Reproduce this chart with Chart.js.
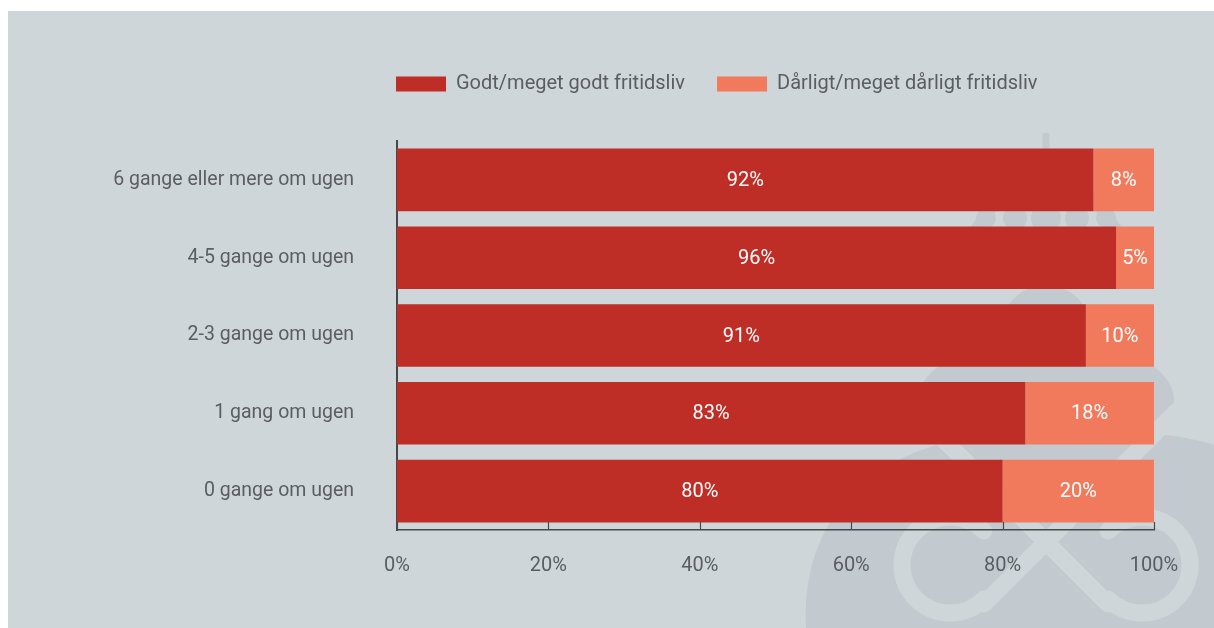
<!DOCTYPE html>
<html><head><meta charset="utf-8">
<script src="https://cdn.jsdelivr.net/npm/chart.js@4"></script>
<style>html,body{margin:0;padding:0;background:#fff;overflow:hidden} #wrap{width:1214px;height:628px;position:relative}</style>
</head><body><div id="wrap"><canvas id="c" width="1214" height="628"></canvas></div>
<script>
const categories = ['6 gange eller mere om ugen', '4-5 gange om ugen', '2-3 gange om ugen', '1 gang om ugen', '0 gange om ugen'];
const seriesNames = ['Godt/meget godt fritidsliv', 'Dårligt/meget dårligt fritidsliv'];
const goodValues = [92, 95, 91, 83, 80];
const badValues = [8, 5, 9, 17, 20];
const goodLabels = ['92%', '96%', '91%', '83%', '80%'];
const badLabels = ['8%', '5%', '10%', '18%', '20%'];
const xTicks = [0, 20, 40, 60, 80, 100];

const FONT = 'Roboto, "Open Sans", sans-serif';
const TEXT = '#5a5d61';
const AXIS = '#46494c';
const RED = '#bf2e26';
const SALMON = '#f27a5c';
const PANEL = '#cfd6d9';
const WM = '#c3cacf';

const backgroundPlugin = {
  id: 'bg',
  beforeDraw(chart) {
    const ctx = chart.ctx;
    ctx.save();
    ctx.fillStyle = '#ffffff';
    ctx.fillRect(0, 0, chart.width, chart.height);
    ctx.fillStyle = PANEL;
    ctx.fillRect(8, 11, chart.width - 8, chart.height - 11);
    // faint watermark (decoration)
    ctx.fillStyle = WM;
    ctx.strokeStyle = WM;
    ctx.lineCap = 'round';
    ctx.lineWidth = 7;
    ctx.beginPath(); ctx.moveTo(1046, 136); ctx.lineTo(1046, 165); ctx.stroke();
    ctx.lineWidth = 9;
    ctx.beginPath(); ctx.arc(1046, 275, 85, Math.PI * 1.12, Math.PI * 1.88); ctx.stroke();
    [[986, 218, 10], [1015, 218, 12], [1046, 218, 15], [1077, 218, 12], [1106, 218, 10]].forEach(([x, y, r]) => {
      ctx.beginPath(); ctx.arc(x, y, r, 0, Math.PI * 2); ctx.fill();
    });
    ctx.beginPath(); ctx.arc(1046, 330, 45, 0, Math.PI * 2); ctx.fill();
    ctx.beginPath(); ctx.ellipse(1046, 400, 128, 62, 0, 0, Math.PI * 2); ctx.fill();
    ctx.beginPath();
    ctx.moveTo(806, 628);
    ctx.bezierCurveTo(800, 520, 870, 455, 960, 440);
    ctx.bezierCurveTo(1080, 425, 1170, 430, 1214, 445);
    ctx.lineTo(1214, 628);
    ctx.closePath();
    ctx.fill();
    // light pretzel strokes
    ctx.strokeStyle = PANEL;
    ctx.lineWidth = 17;
    ctx.beginPath(); ctx.arc(950, 565, 48, Math.PI * 0.25, Math.PI * 1.75, false); ctx.stroke();
    ctx.beginPath(); ctx.arc(1142, 565, 48, Math.PI * 1.25, Math.PI * 0.75, false); ctx.stroke();
    ctx.beginPath(); ctx.moveTo(916, 412); ctx.lineTo(1108, 604); ctx.stroke();
    ctx.beginPath(); ctx.moveTo(1176, 412); ctx.lineTo(984, 604); ctx.stroke();
    ctx.restore();
  }
};

const legendPosPlugin = {
  id: 'legendPos',
  afterLayout(chart) {
    const lg = chart.legend;
    if (!lg) return;
    const pad = lg.options.labels.padding;
    lg.left = 396 - pad;
    lg.top = 84 - pad - 10;
  }
};

const barLabelPlugin = {
  id: 'barLabels',
  afterDatasetsDraw(chart) {
    const ctx = chart.ctx;
    const texts = [goodLabels, badLabels];
    ctx.save();
    ctx.fillStyle = '#ffffff';
    ctx.font = '20px ' + FONT;
    ctx.textAlign = 'center';
    ctx.textBaseline = 'middle';
    chart.data.datasets.forEach((ds, i) => {
      const meta = chart.getDatasetMeta(i);
      meta.data.forEach((el, j) => {
        const p = el.getCenterPoint();
        ctx.fillText(texts[i][j], p.x, p.y + 1);
      });
    });
    ctx.restore();
  }
};

const innerTicksPlugin = {
  id: 'innerTicks',
  afterDatasetsDraw(chart) {
    const ctx = chart.ctx;
    const xs = chart.scales.x;
    const bottom = chart.chartArea.bottom;
    ctx.save();
    ctx.strokeStyle = AXIS;
    ctx.lineWidth = 1.2;
    xTicks.forEach(v => {
      const px = Math.round(xs.getPixelForValue(v)) + 0.5;
      ctx.beginPath(); ctx.moveTo(px, bottom - 8); ctx.lineTo(px, bottom); ctx.stroke();
    });
    ctx.restore();
  }
};

new Chart(document.getElementById('c'), {
  type: 'bar',
  data: {
    labels: categories,
    datasets: [
      { label: seriesNames[0], data: goodValues, backgroundColor: RED, borderWidth: 0, barPercentage: 0.805, categoryPercentage: 1 },
      { label: seriesNames[1], data: badValues, backgroundColor: SALMON, borderWidth: 0, barPercentage: 0.805, categoryPercentage: 1 }
    ]
  },
  options: {
    indexAxis: 'y',
    responsive: false,
    devicePixelRatio: 1,
    animation: false,
    layout: { padding: { left: 0, right: 60, top: 79, bottom: 0 } },
    plugins: {
      tooltip: { enabled: false },
      legend: {
        position: 'top',
        align: 'start',
        labels: {
          boxWidth: 50,
          boxHeight: 15,
          padding: 32,
          color: TEXT,
          font: { family: FONT, size: 20 }
        }
      }
    },
    scales: {
      x: {
        stacked: true,
        min: 0,
        max: 100,
        grid: { display: false, drawTicks: false },
        border: { display: true, color: AXIS, width: 1.5 },
        afterBuildTicks: s => { s.ticks = xTicks.map(v => ({ value: v })); },
        ticks: { color: TEXT, font: { family: FONT, size: 20 }, padding: 24, maxRotation: 0, callback: v => v + '%' },
        afterFit: s => { s.height = 98; }
      },
      y: {
        stacked: true,
        grid: { display: false, drawTicks: false },
        border: { display: true, color: AXIS, width: 2 },
        ticks: { color: TEXT, font: { family: FONT, size: 19.5 }, padding: 43 },
        afterFit: s => { s.width = 397; }
      }
    }
  },
  plugins: [backgroundPlugin, legendPosPlugin, barLabelPlugin, innerTicksPlugin]
});
</script>
</body></html>
